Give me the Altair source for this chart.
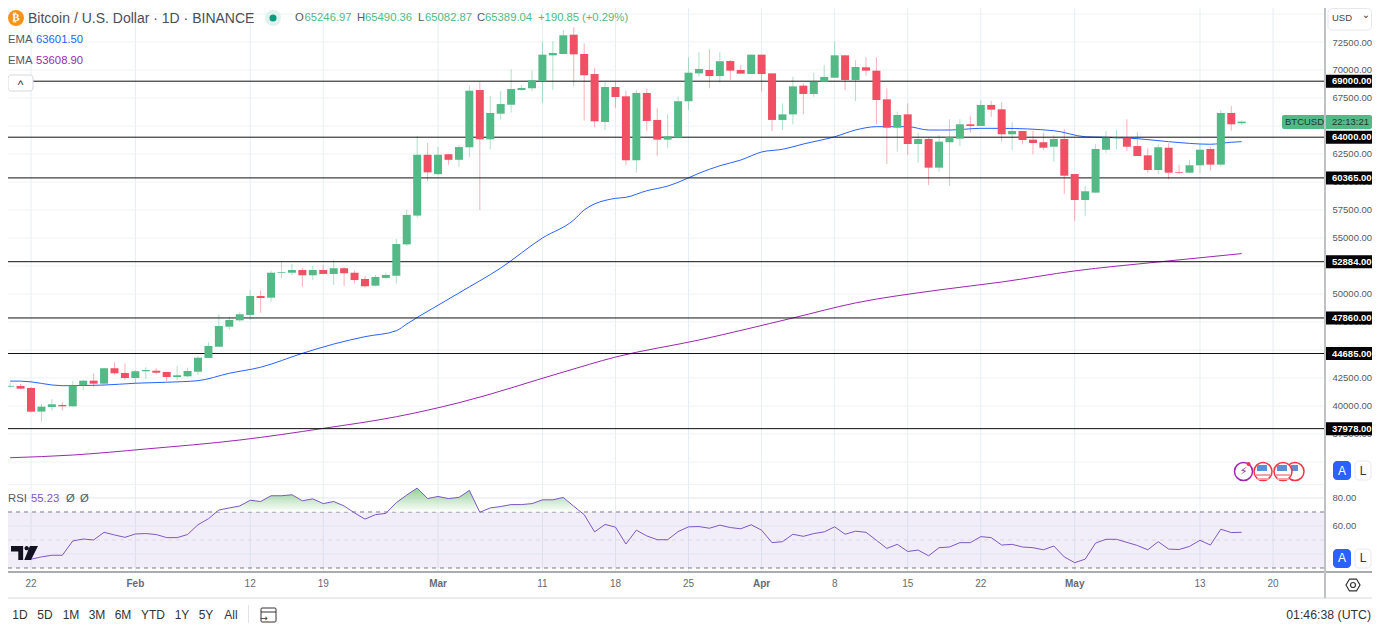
import altair as alt
import pandas as pd

FONT = "Liberation Sans"
UP, DOWN = "#53b987", "#ef5063"
BLUE, PURPLE, RSI_C = "#2962ff", "#9c27b0", "#7e57c2"
GRID = "#eef2f6"
VGRID = "#e6eef4"

opens = [41730,41790,41610,39500,39910,40090,39970,41850,42260,41990,43370,42950,42500,43100,43150,43040,42590,42650,43060,44290,45290,47080,47650,48130,49820,49670,51900,51900,52140,51670,52140,51790,52300,51900,51340,50740,51430,51630,54430,57000,62430,60700,62480,61980,63100,68210,63810,66100,66900,68210,68370,68990,71310,71430,73150,71430,69640,65360,68480,67650,61940,67950,65540,63780,63960,67210,69700,70000,69460,70800,70000,69640,71370,69700,65540,66040,68600,67860,68950,69310,71310,69110,70240,69940,67380,64850,66040,63390,63840,61280,63550,63870,65150,65000,66880,66490,64260,64550,63780,63550,63150,63840,60710,58390,59050,62880,63900,63960,63210,62380,61070,63060,60890,60830,61490,62950,61550,66160,65247]
highs = [42030,41960,41700,40180,40600,40330,42230,42320,42920,43370,43900,43800,43210,43450,43370,43040,43570,43420,44460,45690,48190,47970,48370,50360,50300,52080,52830,52680,52320,52500,52590,53040,52400,52080,51610,51700,51940,54910,57540,64100,63480,63120,62500,63300,68600,68950,67680,68120,70060,68660,69940,72530,72590,73570,73810,72380,70150,68950,68950,68150,68210,68300,66580,66070,67620,71130,71580,71850,71580,70890,70450,71370,71370,69700,67020,69400,68810,69760,70450,72530,71310,70890,71130,71130,68370,66280,67020,64400,64000,64200,65600,65600,65890,67320,67230,67120,65330,64550,64580,64400,64200,64700,60710,59670,63370,64550,64640,65600,64440,63010,63370,63460,61520,61960,63370,63150,66430,66790,65490]
lows = [41580,41500,39430,38600,39580,39580,39900,41430,41720,41875,42800,42320,42030,42440,42860,42230,42320,42560,42770,44290,45270,46790,47530,47680,48330,49310,51400,51700,50650,51250,51790,50820,50710,50950,50560,50690,51340,50950,54280,56820,60090,60620,61540,61340,62200,57500,62920,65600,66190,68150,68120,67080,68210,71430,68570,65470,64890,64640,66630,61520,60830,64550,62350,63010,63960,66430,69400,68370,68870,69110,69670,69640,68060,64550,64640,65150,66040,67620,68950,69310,68210,67230,69490,65150,61610,62700,62410,61720,59730,60920,59670,63210,64400,65000,65830,63600,62860,63370,62470,62860,61810,58930,56520,56990,59050,62620,62920,62770,62320,60830,60690,60240,60690,60830,60780,61010,61370,64580,65083]
closes = [41800,41545,39490,39940,40150,39970,41810,42260,41990,43370,42920,42500,43100,43210,42970,42590,42740,43125,44310,45360,47140,47680,48190,49820,49640,51900,51965,52140,51670,52140,51790,52300,51850,51250,50690,51520,51700,54460,57060,62430,60860,62430,61980,63120,68150,63810,66160,66960,68300,68390,69080,71370,71520,73100,71400,69530,65420,68480,67590,61940,67950,65450,63780,64080,67210,69760,70090,69460,70780,69940,69670,71370,69640,65540,66040,68540,67860,68950,69380,71310,69110,70270,69940,67320,64850,65980,63390,63840,61280,63600,64000,65150,65000,66880,66460,64260,64550,63750,63480,63060,63840,60560,58390,59170,62950,63960,63960,63150,62320,61070,63100,60830,60830,61490,62880,61550,66160,65150,65389]
candle_first_day = -2

ema50_days = [-2,-1,3,7,10,13,16,19,22,26,29,32,35,36,41,45,49,52,53,56,57,59,61,62,64,66,68,70,72,74,77,79,81,84,86,88,91,93,98,101,103,106,109,113,115,116]
ema50_vals = [42220,42220,41810,41870,42030,42120,42260,42920,43460,44700,45530,46190,46720,47320,50090,52320,55000,56610,57500,58540,58630,59220,59640,59970,60780,61450,61960,62680,62920,63390,64040,64640,64940,64940,64640,64640,64790,64790,64580,64040,63990,63870,63600,63370,63550,63601]
ema200_days = [-2,4,11,20,28,35,41,51,56,64,73,79,87,93,100,108,116]
ema200_vals = [35380,35620,36160,36960,38000,39040,40290,43030,44370,45890,47860,49200,50360,51070,52060,52860,53609]

rsi_vals = [36.3,37.9,39.1,39.1,49.3,50.7,50.0,55.5,53.6,51.9,54.3,54.6,53.9,51.7,51.7,53.9,60.9,65.2,71.4,72.9,74.3,78.4,77.5,81.6,81.6,82.3,78.0,79.4,76.0,77.5,74.3,69.3,64.9,68.1,69.0,76.7,82.1,87.1,79.6,81.1,79.6,80.4,85.4,69.8,72.9,73.9,75.3,75.3,76.0,78.7,78.7,80.4,74.1,68.1,55.8,61.1,59.2,47.1,57.0,52.9,50.2,50.2,56.0,59.4,59.6,58.4,60.6,58.9,58.0,60.9,57.0,48.1,48.8,54.1,52.6,54.6,55.8,59.4,54.1,56.3,55.5,49.8,44.0,46.9,41.8,42.8,38.7,44.5,45.0,48.1,48.1,52.4,51.7,46.4,46.9,45.0,44.5,43.0,45.7,37.9,33.8,36.3,47.8,50.5,50.5,48.3,46.1,43.0,48.8,43.5,43.2,45.4,49.8,46.4,57.7,55.3,55.5]

levels = [69000, 64000, 60365, 52884, 47860, 44685, 37978]
price_ticks = [72500,70000,67500,62500,60000,57500,55000,50000,47500,45000,42500,40000,37500]
grid_prices = [75000,72500,70000,67500,65000,62500,60000,57500,55000,52500,50000,47500,45000,42500,40000,37500,35000]
tick_days = [0,10,21,28,39,49,56,63,70,77,84,91,100,112,119]
tick_labels = ["22","Feb","12","19","Mar","11","18","25","Apr","8","15","22","May","13","20"]
month_days = [10,39,70,100]

W, H = 1317, 564
X_DOM = [-2.204, 123.98]
P_DOM = [25176, 75536]
R_DOM = [27.14, 90.71]
xs = alt.Scale(domain=X_DOM, nice=False, zero=False)
ps = alt.Scale(domain=P_DOM, nice=False, zero=False)
rs = alt.Scale(domain=R_DOM, range=[564, 475], nice=False, zero=False)
X0 = alt.X("d:Q", scale=xs, axis=None)
PY = alt.Y("p:Q", scale=ps, axis=None)
RY = alt.Y("r:Q", scale=rs, axis=None)

days = list(range(candle_first_day, candle_first_day + len(opens)))
assert len(opens) == len(highs) == len(lows) == len(closes) == 119
assert len(rsi_vals) == 117
assert len(ema50_days) == len(ema50_vals) and len(ema200_days) == len(ema200_vals)
candles = pd.DataFrame({"d": days, "o": opens, "h": highs, "l": lows, "c": closes})
candles["dir"] = ["up" if c >= o else "down" for o, c in zip(opens, closes)]
col = alt.Color("dir:N", scale=alt.Scale(domain=["up", "down"], range=[UP, DOWN]), legend=None)

ticks_df = pd.DataFrame({"d": tick_days, "t": tick_labels})
ticks_df["m"] = ticks_df["d"].isin(month_days)
vgrid = alt.Chart(ticks_df).mark_rule(color=VGRID, strokeWidth=1).encode(
    x=X0, y=alt.value(0), y2=alt.value(H))
xlab = alt.Chart(ticks_df[~ticks_df["m"]]).mark_text(font=FONT, fontSize=10, color="#666a74", baseline="middle").encode(
    x=X0, y=alt.value(576), text="t:N")
xlab_m = alt.Chart(ticks_df[ticks_df["m"]]).mark_text(font=FONT, fontSize=10, fontWeight="bold", color="#666a74", baseline="middle").encode(
    x=X0, y=alt.value(576), text="t:N")
hgrid = alt.Chart(pd.DataFrame({"p": grid_prices})).mark_rule(color=GRID, strokeWidth=1).encode(
    y=alt.Y("p:Q", scale=ps, axis=alt.Axis(orient="right", values=price_ticks, format=".2f", grid=False, ticks=False,
            domain=False, labelFont=FONT, labelFontSize=9.5, labelColor="#555a64", labelPadding=7, title=None)),
    x=alt.value(0), x2=alt.value(W))
pane_top = alt.Chart(pd.DataFrame({"p": [32980]})).mark_rule(color=GRID, strokeWidth=1).encode(
    y=PY, x=alt.value(0), x2=alt.value(W))
wicks = alt.Chart(candles).mark_rule(strokeWidth=1, opacity=0.45).encode(
    x=X0, y=alt.Y("l:Q", scale=ps, axis=None), y2="h:Q", color=col)
bodies = alt.Chart(candles).mark_rule(strokeWidth=8).encode(
    x=X0, y=alt.Y("o:Q", scale=ps, axis=None), y2="c:Q", color=col)
e50 = alt.Chart(pd.DataFrame({"d": ema50_days, "p": ema50_vals})).mark_line(color=BLUE, strokeWidth=1, interpolate="monotone").encode(x=X0, y=PY)
e200 = alt.Chart(pd.DataFrame({"d": ema200_days, "p": ema200_vals})).mark_line(color=PURPLE, strokeWidth=1, interpolate="monotone").encode(x=X0, y=PY)
lv = pd.DataFrame({"p": levels, "t": [f"{v:.2f}" for v in levels]})
lines = alt.Chart(lv).mark_rule(color="#111111", strokeWidth=1).encode(y=PY, x=alt.value(0), x2=alt.value(W))
boxes = alt.Chart(lv).mark_rule(color="#000000", strokeWidth=13).encode(y=PY, x=alt.value(W), x2=alt.value(1364))
boxt = alt.Chart(lv).mark_text(color="#ffffff", font=FONT, fontSize=9.5, fontWeight="bold", align="left", baseline="middle").encode(
    y=PY, x=alt.value(1324), text="t:N")
price_layers = [vgrid, hgrid, pane_top, wicks, e50, e200, lines, bodies]

rsi_days = list(range(0, len(rsi_vals)))
rsi_df = pd.DataFrame({"d": rsi_days, "r": rsi_vals})
area_rows = []
for i in range(len(rsi_vals) - 1):
    a, b = rsi_vals[i], rsi_vals[i + 1]
    area_rows.append((rsi_days[i], max(a, 70)))
    if (a - 70) * (b - 70) < 0:
        area_rows.append((rsi_days[i] + (70 - a) / (b - a), 70))
rsi_area = pd.DataFrame(area_rows, columns=["d", "r"])
rsi_area["b"] = 70
band = alt.Chart(pd.DataFrame({"r": [70], "r2": [30]})).mark_rect(color=RSI_C, opacity=0.1).encode(
    y=alt.Y("r:Q", scale=rs, axis=None), y2="r2:Q", x=alt.value(0), x2=alt.value(W))
rgrid = alt.Chart(pd.DataFrame({"r": [80, 60, 40]})).mark_rule(color="#e2e6f0", strokeWidth=1).encode(
    y=alt.Y("r:Q", scale=rs, axis=alt.Axis(orient="right", values=[80, 60], format=".2f", grid=False, ticks=False,
            domain=False, labelFont=FONT, labelFontSize=9.5, labelColor="#555a64", labelPadding=7, title=None)),
    x=alt.value(0), x2=alt.value(W))
dash = alt.Chart(pd.DataFrame({"r": [70, 30]})).mark_rule(color="#787b86", strokeWidth=1, strokeDash=[4, 4]).encode(
    y=RY, x=alt.value(0), x2=alt.value(W))
dash50 = alt.Chart(pd.DataFrame({"r": [50]})).mark_rule(color="#d8d8dc", strokeWidth=1, strokeDash=[4, 4]).encode(
    y=RY, x=alt.value(0), x2=alt.value(W))
grad = alt.Gradient(gradient="linear", x1=0, y1=0, x2=0, y2=1,
                    stops=[alt.GradientStop(offset=0, color="#66bb6a"), alt.GradientStop(offset=1, color="#ffffff")])
green = alt.Chart(rsi_area).mark_area(color=grad, opacity=0.7).encode(x=X0, y=RY, y2="b:Q")
rline = alt.Chart(rsi_df).mark_line(color=RSI_C, strokeWidth=1).encode(x=X0, y=RY)
rsi_layers = [band, rgrid, dash, dash50, green, rline]

one = pd.DataFrame({"a": [0]})
O = 8
def T(s, x, y, color="#555a64", size=11.3, weight="normal", align="left", font=FONT):
    return alt.Chart(one).mark_text(color=color, fontSize=size, fontWeight=weight, align=align, baseline="middle", font=font).encode(
        x=alt.value(x - O), y=alt.value(y - O), text=alt.value(s))
def R(x1, y1, x2, y2, fill="#ffffff", stroke=None, radius=0, sw=1):
    kw = dict(fill=fill, cornerRadius=radius)
    if stroke:
        kw.update(stroke=stroke, strokeWidth=sw)
    return alt.Chart(one).mark_rect(**kw).encode(
        x=alt.value(x1 - O), x2=alt.value(x2 - O), y=alt.value(y1 - O), y2=alt.value(y2 - O))
def C(x, y, d, fill="#ffffff", stroke=None, sw=1.5, shape="circle"):
    kw = dict(filled=True, fill=fill, size=d * d, shape=shape, opacity=1)
    if stroke:
        kw.update(stroke=stroke, strokeWidth=sw)
    return alt.Chart(one).mark_point(**kw).encode(x=alt.value(x - O), y=alt.value(y - O))
def HL(x1, x2, y, color, sw=1):
    return alt.Chart(one).mark_rule(color=color, strokeWidth=sw).encode(
        x=alt.value(x1 - O), x2=alt.value(x2 - O), y=alt.value(y - O))
def VL(x, y1, y2, color, sw=1):
    return alt.Chart(one).mark_rule(color=color, strokeWidth=sw).encode(
        x=alt.value(x - O), y=alt.value(y1 - O), y2=alt.value(y2 - O))

LOGO = ("M-1,-0.52H-0.1V0.52H-0.46V-0.12H-1Z"
        "M0,-0.36a0.16,0.16 0 1,0 0.32,0a0.16,0.16 0 1,0 -0.32,0Z"
        "M0.4,-0.52H1L0.48,0.52H-0.02Z")
ui = [
    xlab, xlab_m,
    R(8, 75, 33, 91, "#ffffff", "#d6d8de", 3),
    T("^", 20.5, 85, "#333333", 12, align="center"),
    C(16, 18, 16, "#f7931a"),
    T("₿", 16, 18, "#ffffff", 11, "bold", "center", "DejaVu Sans"),
    T("Bitcoin / U.S. Dollar · 1D · BINANCE", 28, 19, "#4a4e58", 14),
    C(273, 18, 16, "#dff2ee"),
    C(273, 18, 7, "#089981"),
    T("O", 295, 18, "#555a64"), T("65246.97", 304.5, 18, UP),
    T("H", 357, 18, "#555a64"), T("65490.36", 365, 18, UP),
    T("L", 418, 18, "#555a64"), T("65082.87", 425, 18, UP),
    T("C", 477, 18, "#555a64"), T("65389.04", 485, 18, UP),
    T("+190.85", 538, 18, UP), T("(+0.29%)", 582, 18, UP),
    T("EMA", 8, 40, "#555a64"), T("63601.50", 36, 40, BLUE),
    T("EMA", 8, 61, "#555a64"), T("53608.90", 36, 61, PURPLE),
    T("RSI", 8, 499, "#555a64"), T("55.23", 31, 499, RSI_C),
    T("Ø", 66, 499, "#555a64"), T("Ø", 80, 499, "#555a64"),
    alt.Chart(one).mark_point(shape=LOGO, size=729, filled=True, fill="#111122", opacity=1).encode(x=alt.value(24.5 - O), y=alt.value(553 - O)),
    boxes, boxt,
    # right scale chrome
    R(1282, 115, 1372, 129, UP, None, 2),
    T("BTCUSD", 1285, 122, "#1d3a2c", 9.5),
    T("22:13:21", 1332, 122, "#1d3a2c", 9.5),
    R(1328, 8.5, 1371.5, 30, "#ffffff", "#e6e8ee", 4),
    T("USD", 1332, 18, "#444444", 9.5),
    T("⌄", 1366, 15, "#444444", 10, align="center", font="DejaVu Sans"),
    R(1333, 461, 1351, 480, BLUE, None, 4), T("A", 1342, 471, "#ffffff", 12, align="center"),
    R(1355, 461, 1371, 480, "#ffffff", "#e6e8ee", 4), T("L", 1363, 471, "#333333", 12, align="center"),
    R(1333, 549, 1351, 568, BLUE, None, 4), T("A", 1342, 558, "#ffffff", 12, align="center"),
    R(1355, 549, 1371, 568, "#ffffff", "#e6e8ee", 4), T("L", 1363, 558, "#333333", 12, align="center"),
    C(1353, 585, 14, "#ffffff", "#333333", 1.2, "M-1,0L-0.5,-0.85H0.5L1,0L0.5,0.85H-0.5Z"),
    C(1353, 585, 5, "#ffffff", "#333333", 1.2),
    HL(8, 1372, 572, "#8d9096", 1.3),
    HL(8, 1372, 598, "#e4e6ec", 1.5),
    VL(1325, 8, 598, "#bfc1c6", 2),
    # event icons
    C(1295, 471.5, 18, "#ffffff", "#f23645"), R(1291, 465, 1298, 471, "#5b8fd6"), C(1283, 471.5, 18, "#ffffff", "#f23645"),
    HL(1276, 1290, 475, "#f7a0a8", 2), HL(1277, 1289, 479, "#f7a0a8", 2), R(1277, 465, 1287, 471, "#5b8fd6"),
    C(1263, 471.5, 18, "#ffffff", "#f23645"),
    HL(1256, 1270, 475, "#f7a0a8", 2), HL(1257, 1269, 479, "#f7a0a8", 2), R(1257, 465, 1267, 471, "#5b8fd6"),
    C(1243.5, 471.5, 18, "#ffffff", "#9c27b0"),
    T("⚡", 1243.5, 471.5, "#9c27b0", 11, align="center", font="DejaVu Sans"),
    C(1248.5, 464, 4, "#f23645"),
    # toolbar
    T("01:46:38 (UTC)", 1371, 615, "#333333", 12.3, align="right"),
    VL(248.5, 605, 623, "#e0e3eb"),
    R(261, 608, 276, 622, "#ffffff", "#333333", 1),
    HL(261, 276, 612, "#333333"),
    T("→", 264, 617.5, "#333333", 9, align="center", font="DejaVu Sans"),
]
for lab, x in zip(["1D","5D","1M","3M","6M","YTD","1Y","5Y","All"], [20,45,71,97,123,153,182,206,231]):
    ui.append(T(lab, x, 615, "#333333", 12, align="center"))

chart = alt.layer(*price_layers, *rsi_layers, *ui).resolve_scale(y="independent").properties(
    width=W, height=H,
    padding={"left": 0, "top": 0, "right": 47, "bottom": 51},
    autosize=alt.AutoSizeParams(type="none"),
    background="#ffffff",
).configure_view(stroke=None)
chart.save("out.html", embed_options={"renderer": "svg", "actions": False})
